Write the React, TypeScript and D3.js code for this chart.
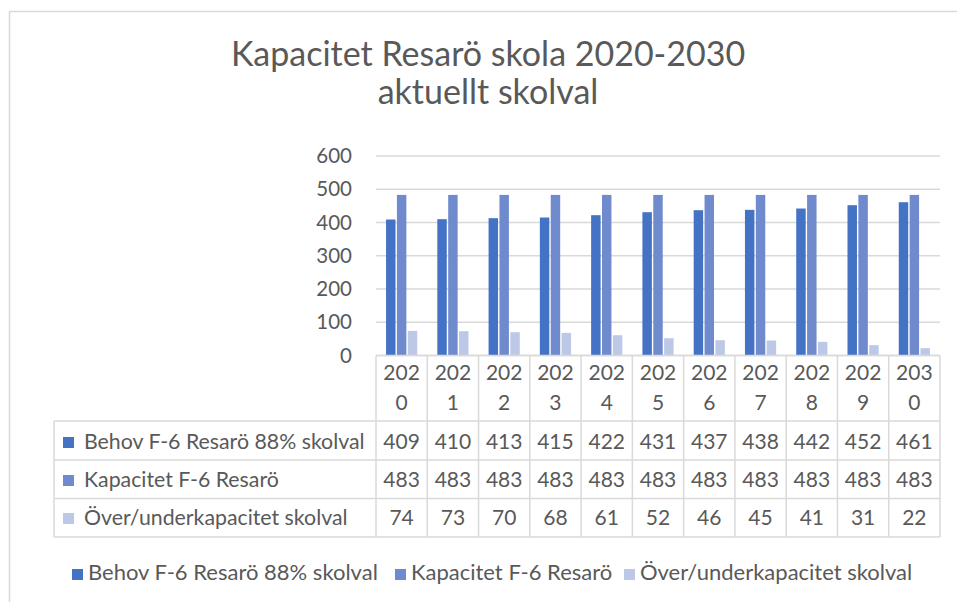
import React from "react";
import * as d3 from "d3";

const years = ["2020", "2021", "2022", "2023", "2024", "2025", "2026", "2027", "2028", "2029", "2030"];
const seriesNames = ["Behov F-6 Resarö 88% skolval", "Kapacitet F-6 Resarö", "Över/underkapacitet skolval"];
const behov = [409, 410, 413, 415, 422, 431, 437, 438, 442, 452, 461];
const kapacitet = [483, 483, 483, 483, 483, 483, 483, 483, 483, 483, 483];
const overUnder = [74, 73, 70, 68, 61, 52, 46, 45, 41, 31, 22];
const yTicks = [0, 100, 200, 300, 400, 500, 600];
const titleLines = ["Kapacitet Resarö skola 2020-2030", "aktuellt skolval"];

const colors = ["#4472C4", "#6F8BCD", "#BCC8E6"];
const seriesValues = [behov, kapacitet, overUnder];

const W = 957;
const H = 602;
const FONT = "Lato, 'Noto Sans', sans-serif";
const TXT = "#595959";
const GRID = "#D9D9D9";

export default function App() {
  const plotLeft = 376;
  const plotRight = 940;
  const x0 = d3.scaleBand<string>().domain(years).range([plotLeft, plotRight]).padding(0);
  const x1 = d3
    .scaleBand<string>()
    .domain(seriesNames)
    .range([0, x0.bandwidth()])
    .paddingInner(0)
    .paddingOuter(0.86);
  const y = d3.scaleLinear().domain([0, 600]).range([355.5, 156]);

  const tableLeft = 54;
  const headerTop = y(0);
  const rowTops = [421, 460, 498.5, 537];
  const rowBaselines = [449, 487, 525];

  return (
    <svg
      width={W}
      height={H}
      style={{ position: "absolute", left: 0, top: 0, background: "#fff" }}
      fontFamily={FONT}
    >
      <rect x={0} y={0} width={W} height={H} fill="#fff" />
      <rect x={9.5} y={11.5} width={W + 20} height={H + 20} fill="none" stroke={GRID} strokeWidth={1.5} />

      {titleLines.map((t, i) => (
        <text key={t} x={488} y={66 + i * 38} textAnchor="middle" fontSize={34} fill={TXT}>
          {t}
        </text>
      ))}

      {yTicks.map((t) => (
        <g key={t}>
          <line x1={plotLeft} x2={plotRight} y1={y(t)} y2={y(t)} stroke={GRID} strokeWidth={1.5} />
          <text x={352} y={y(t) + 7} textAnchor="end" fontSize={20.5} fill={TXT}>
            {t}
          </text>
        </g>
      ))}

      {years.map((yr, i) => (
        <g key={yr} transform={`translate(${x0(yr)},0)`}>
          {seriesNames.map((s, si) => {
            const v = seriesValues[si][i];
            const bx = (x1(s) as number) + 0.7;
            const bw = x1.bandwidth() - 1.4;
            return (
              <rect key={s} x={bx} y={y(v)} width={bw} height={y(0) - y(v)} fill={colors[si]} />
            );
          })}
        </g>
      ))}

      <g stroke={GRID} strokeWidth={1.5}>
        <line x1={plotLeft} x2={plotRight} y1={headerTop} y2={headerTop} />
        {rowTops.map((ry) => (
          <line key={ry} x1={tableLeft} x2={plotRight} y1={ry} y2={ry} />
        ))}
        <line x1={tableLeft} x2={tableLeft} y1={rowTops[0]} y2={rowTops[3]} />
        {years.map((yr) => (
          <line key={yr} x1={x0(yr)} x2={x0(yr)} y1={headerTop} y2={rowTops[3]} />
        ))}
        <line x1={plotRight} x2={plotRight} y1={headerTop} y2={rowTops[3]} />
      </g>

      {years.map((yr) => {
        const cx = (x0(yr) as number) + x0.bandwidth() / 2;
        return (
          <g key={yr} fontSize={21} fill={TXT} textAnchor="middle">
            <text x={cx} y={380}>{yr.slice(0, 3)}</text>
            <text x={cx} y={410}>{yr.slice(3)}</text>
          </g>
        );
      })}

      {seriesNames.map((s, si) => (
        <g key={s}>
          <rect x={63} y={rowBaselines[si] - 12} width={11} height={11} fill={colors[si]} />
          <text x={84} y={rowBaselines[si]} fontSize={21.3} fill={TXT}>
            {s}
          </text>
          {years.map((yr, i) => (
            <text
              key={yr}
              x={(x0(yr) as number) + x0.bandwidth() / 2}
              y={rowBaselines[si]}
              fontSize={21}
              fill={TXT}
              textAnchor="middle"
            >
              {seriesValues[si][i]}
            </text>
          ))}
        </g>
      ))}

      {[72, 395, 624].map((lx, si) => (
        <g key={si}>
          <rect x={lx} y={569} width={11} height={11} fill={colors[si]} />
          <text x={lx + 16} y={580} fontSize={22} fill={TXT}>
            {seriesNames[si]}
          </text>
        </g>
      ))}
    </svg>
  );
}
